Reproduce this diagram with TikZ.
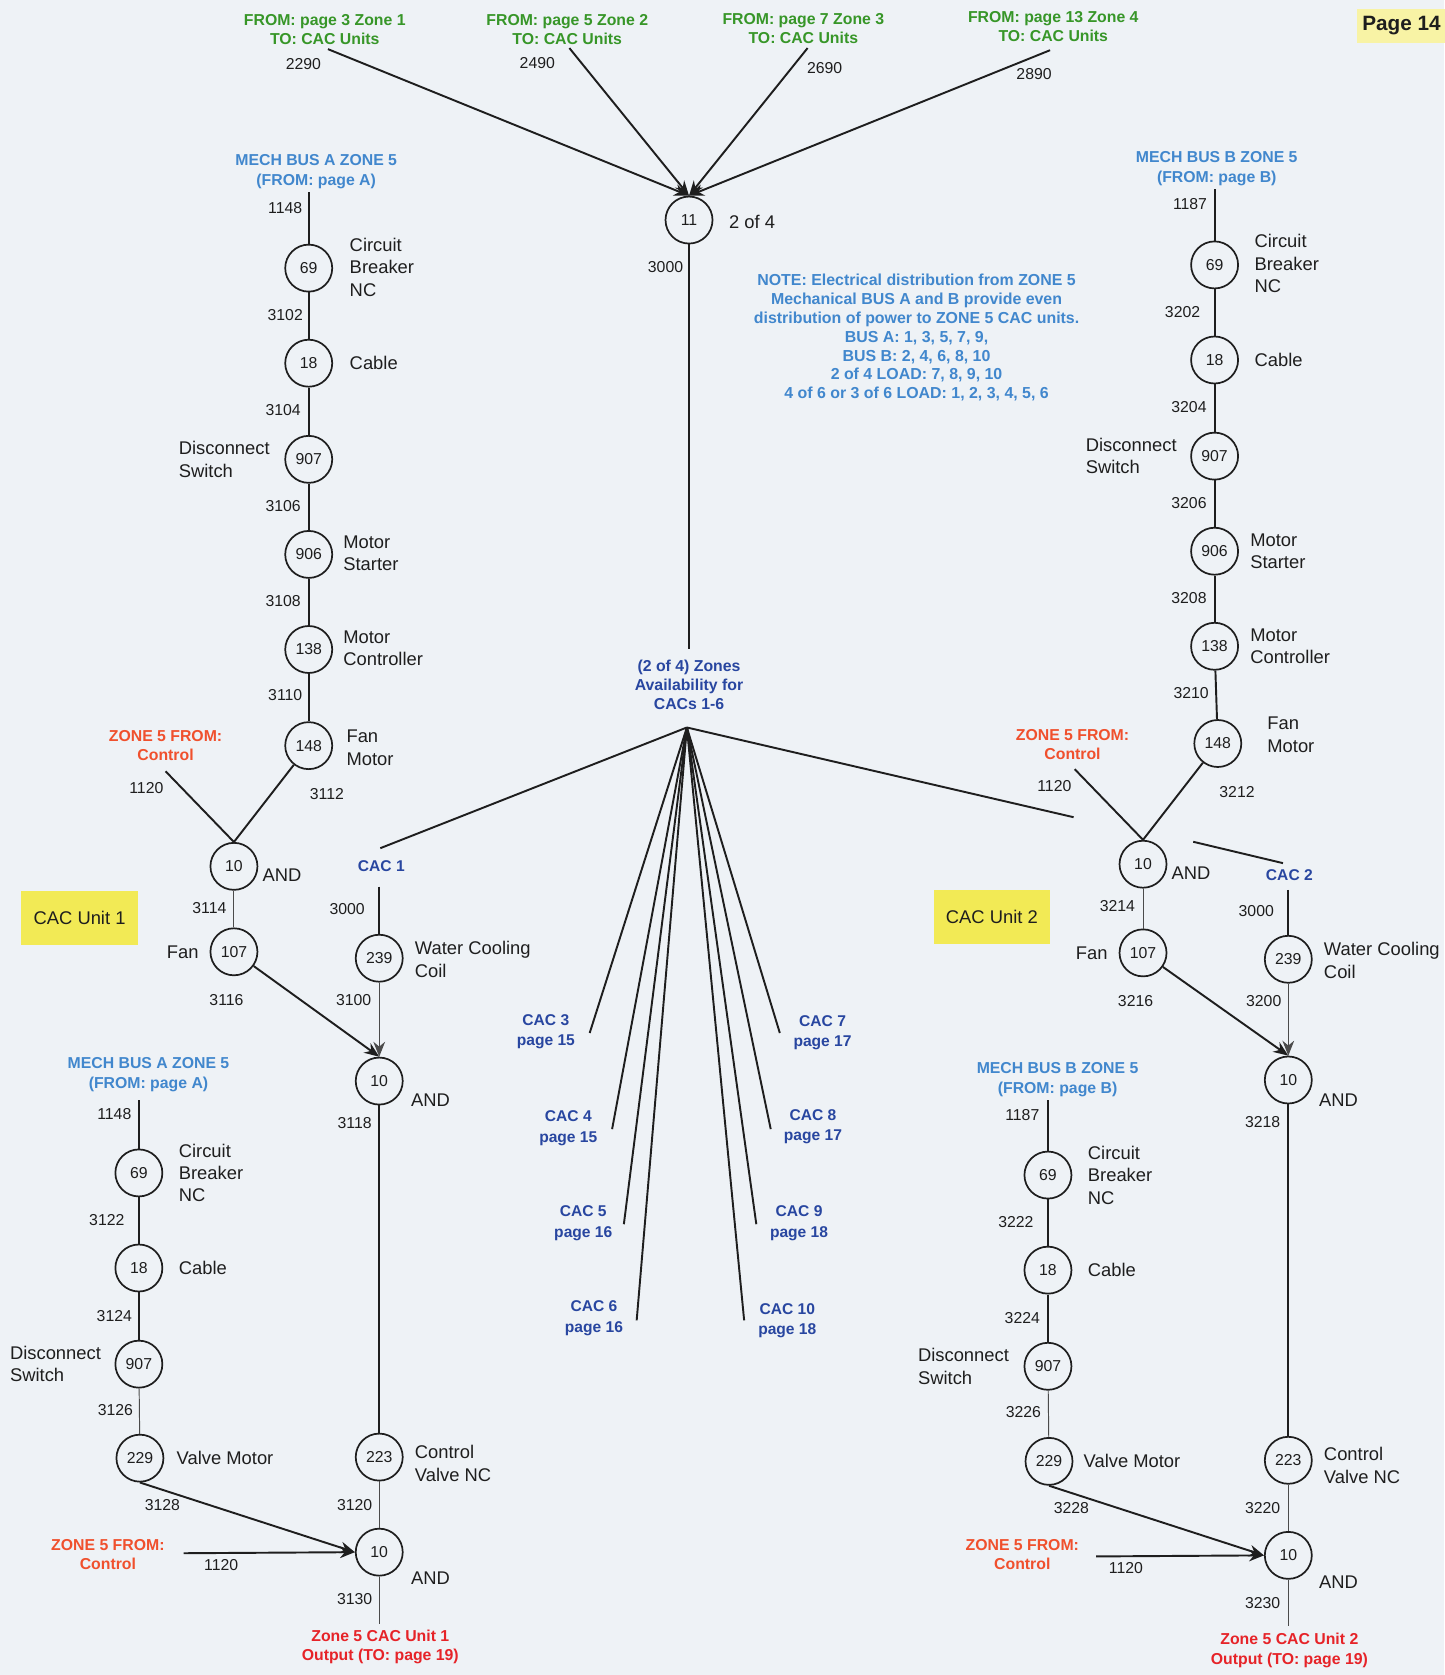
\documentclass[tikz,border=0pt]{standalone}
\usepackage{fontspec}
\setmainfont{Liberation Sans}
\usetikzlibrary{arrows.meta}
\definecolor{bg}{RGB}{238,242,246}
\definecolor{grn}{RGB}{55,150,40}
\definecolor{lblue}{RGB}{65,135,205}
\definecolor{dblue}{RGB}{40,70,160}
\definecolor{ored}{RGB}{240,80,45}
\definecolor{rred}{RGB}{230,35,40}
\definecolor{ybox}{RGB}{242,234,85}
\definecolor{pbox}{RGB}{248,243,165}
\definecolor{ink}{RGB}{30,30,30}
\tikzset{
  cnode/.style={circle, draw=ink, line width=0.8pt, minimum size=22pt, inner sep=0pt, fill=bg, text=ink, font=\fontsize{7.4}{8}\selectfont},
  wire/.style={draw=ink, line width=0.9pt},
  thinwire/.style={draw=ink!80, line width=0.45pt},
  arr/.style={-{Stealth[length=7pt,width=5.5pt]}},
  desc/.style={font=\fontsize{8.6}{10.5}\selectfont, align=left, anchor=west, inner sep=0pt, text=ink},
  plain/.style={font=\fontsize{8.6}{10.5}\selectfont, inner sep=0pt, text=ink},
  wnum/.style={font=\fontsize{7.4}{8}\selectfont, inner sep=0pt, text=ink},
  grnlbl/.style={font=\bfseries\fontsize{7.4}{9}\selectfont, align=center, inner sep=0pt, text=grn},
  hdrlbl/.style={font=\bfseries\fontsize{7.4}{9.4}\selectfont, align=center, inner sep=0pt, text=lblue},
  caclbl/.style={font=\bfseries\fontsize{7.3}{9.5}\selectfont, align=center, inner sep=0pt, text=dblue},
  ctrllbl/.style={font=\bfseries\fontsize{7.4}{9}\selectfont, align=center, inner sep=0pt, text=ored},
  outlbl/.style={font=\bfseries\fontsize{7.4}{9}\selectfont, align=center, inner sep=0pt, text=rred},
  unitbox/.style={fill=ybox, minimum width=54.5pt, minimum height=25pt, inner sep=0pt, font=\fontsize{8.6}{10}\selectfont, text=ink},
}
\begin{document}
\begin{tikzpicture}[x=0.5pt,y=-0.5pt]
\useasboundingbox (0,0) rectangle (1352,1568);
\fill[bg] (0,0) rectangle (1352,1568);

% ---------- top sources ----------
\node[grnlbl] (g1) at (304,28) {FROM: page 3 Zone 1\\TO: CAC Units};
\node[grnlbl] (g2) at (531,28) {FROM: page 5 Zone 2\\TO: CAC Units};
\node[grnlbl] (g3) at (752,27) {FROM: page 7 Zone 3\\TO: CAC Units};
\node[grnlbl] (g4) at (986,25) {FROM: page 13 Zone 4\\TO: CAC Units};
\node[wnum] (w2290) at (284,60) {2290};
\node[wnum] (w2490) at (503,59) {2490};
\node[wnum] (w2690) at (772,64) {2690};
\node[wnum] (w2890) at (968,69) {2890};
\coordinate (c1) at (307,46);
\coordinate (c2) at (533,45);
\coordinate (c3) at (756,45);
\coordinate (c4) at (983,47);

\node[fill=pbox, minimum width=42pt, minimum height=16pt, inner sep=0pt, font=\bfseries\fontsize{9.7}{11}\selectfont, text=ink] (pg) at (1312,24) {Page 14};

\node[cnode] (n11) at (645,206) {11};
\node[plain] (twoof4) at (704,208) {2 of 4};
\node[wnum] (w3000t) at (623,250) {3000};
\foreach \c in {c1,c2,c3,c4} \draw[wire,arr] (\c) -- (n11.north);

\node[font=\bfseries\fontsize{7.45}{8.85}\selectfont, align=center, inner sep=0pt, text=lblue] (note) at (858,316)
 {NOTE: Electrical distribution from ZONE 5\\Mechanical BUS A and B provide even\\distribution of power to ZONE 5 CAC units.\\BUS A: 1, 3, 5, 7, 9,\\BUS B: 2, 4, 6, 8, 10\\2 of 4 LOAD: 7, 8, 9, 10\\4 of 6 or 3 of 6 LOAD: 1, 2, 3, 4, 5, 6};

\node[font=\bfseries\fontsize{7.4}{8.75}\selectfont, align=center, inner sep=0pt, text=dblue] (avail) at (645,641) {(2 of 4) Zones\\Availability for\\CACs 1-6};
\coordinate (availtop) at (645,608);
\draw[wire] (n11) -- (availtop);
\coordinate (fan) at (643,681);

% CAC 3-10
\node[caclbl] (cac3) at (511,966) {CAC 3\\page 15};
\node[caclbl] (cac4) at (532,1056) {CAC 4\\page 15};
\node[caclbl] (cac5) at (546,1145) {CAC 5\\page 16};
\node[caclbl] (cac6) at (556,1234) {CAC 6\\page 16};
\node[caclbl] (cac7) at (770,967) {CAC 7\\page 17};
\node[caclbl] (cac8) at (761,1055) {CAC 8\\page 17};
\node[caclbl] (cac9) at (748,1145) {CAC 9\\page 18};
\node[caclbl] (cac10) at (737,1236) {CAC 10\\page 18};
\coordinate (e3) at (552,967);
\coordinate (e4) at (573,1057);
\coordinate (e5) at (584,1146);
\coordinate (e6) at (596,1236);
\coordinate (e7) at (730,967);
\coordinate (e8) at (721.5,1057);
\coordinate (e9) at (708,1146);
\coordinate (e10) at (696.6,1236);
\foreach \e in {e3,e4,e5,e6,e7,e8,e9,e10} \draw[wire] (fan) -- (\e);

% fan to CAC 1 and CAC 2
\coordinate (e1) at (356,794);
\coordinate (e2a) at (1005,765);
\coordinate (e2b) at (1117,788);
\coordinate (e2c) at (1201,808);
\draw[wire] (fan) -- (e1);
\draw[wire] (fan) -- (e2a);
\draw[wire] (e2b) -- (e2c);

% ---------- upper left chain (BUS A) ----------
\node[hdrlbl] (hA) at (296,161) {MECH BUS A ZONE 5\\(FROM: page A)};
\coordinate (tA) at (289,180);
\node[wnum] (wA1) at (267,195) {1148};
\node[cnode] (nA69) at (289,251) {69};
\node[desc] (dA69) at (327,250) {Circuit\\Breaker\\NC};
\node[wnum] (wA2) at (267,295) {3102};
\node[cnode] (nA18) at (289,340) {18};
\node[desc] (dA18) at (327,340) {Cable};
\node[wnum] (wA3) at (265,384) {3104};
\node[cnode] (nA907) at (289,430) {907};
\node[desc] (dA907) at (167,430) {Disconnect\\Switch};
\node[wnum] (wA4) at (265,474) {3106};
\node[cnode] (nA906) at (289,519) {906};
\node[desc] (dA906) at (321,518) {Motor\\Starter};
\node[wnum] (wA5) at (265,563) {3108};
\node[cnode] (nA138) at (289,608) {138};
\node[desc] (dA138) at (321,607) {Motor\\Controller};
\node[wnum] (wA6) at (267,651) {3110};
\node[cnode] (nA148) at (289,698) {148};
\node[desc] (dA148) at (324,700) {Fan\\Motor};
\node[ctrllbl] (ctlA) at (155,698) {ZONE 5 FROM:\\Control};
\coordinate (ctA) at (155,722);
\node[wnum] (wA7) at (137,738) {1120};
\node[wnum] (wA8) at (306,743) {3112};
\node[cnode] (nAand1) at (219,811) {10};
\node[plain] (andA1) at (264,819) {AND};
\node[wnum] (wA9) at (196,850) {3114};
\node[cnode] (nA107) at (219,891) {107};
\node[plain] (fanA) at (171,891) {Fan};
\node[wnum] (wA10) at (212,936) {3116};
\node[caclbl] (cac1) at (357,811) {CAC 1};
\coordinate (tA1) at (355,830);
\node[wnum] (wA11) at (325,851) {3000};
\node[cnode] (nA239) at (355,897) {239};
\node[desc] (dA239) at (388,898) {Water Cooling\\Coil};
\node[wnum] (wA12) at (331,936) {3100};
\node[cnode] (nAand2) at (355,1012) {10};
\node[plain] (andA2) at (403,1030) {AND};
\node[wnum] (wA13) at (332,1051) {3118};
\node[cnode] (nA223) at (355,1364) {223};
\node[desc] (dA223) at (388,1370) {Control\\Valve NC};
\node[wnum] (wA14) at (332,1409) {3120};
\node[cnode] (nAand3) at (355,1453) {10};
\node[plain] (andA3) at (403,1477) {AND};
\node[wnum] (wA15) at (332,1497) {3130};
\coordinate (oA) at (355,1520);
\node[outlbl] (outA) at (356,1542) {Zone 5 CAC Unit 1\\Output (TO: page 19)};
\node[unitbox] (unit1) at (74.5,859.5) {CAC Unit 1};

\draw[wire] (tA) -- (nA69);
\draw[wire] (nA69) -- (nA18);
\draw[wire] (nA18) -- (nA907);
\draw[wire] (nA907) -- (nA906);
\draw[wire] (nA906) -- (nA138);
\draw[wire] (nA138) -- (nA148);
\draw[wire] (nA148) -- (nAand1.north);
\draw[wire] (ctA) -- (nAand1.north);
\draw[thinwire] (nAand1) -- (nA107);
\draw[wire,arr] (nA107) -- (nAand2.north);
\draw[wire] (tA1) -- (nA239);
\draw[thinwire,arr] (nA239) -- (nAand2.north);
\draw[wire] (nAand2) -- (nA223);
\draw[thinwire] (nA223) -- (nAand3);
\draw[thinwire] (nAand3) -- (oA);

% ---------- lower left chain (BUS A) ----------
\node[hdrlbl] (hB) at (139,1006) {MECH BUS A ZONE 5\\(FROM: page A)};
\coordinate (tB) at (130,1030);
\node[wnum] (wB1) at (107,1043) {1148};
\node[cnode] (nB69) at (130,1098) {69};
\node[desc] (dB69) at (167,1098) {Circuit\\Breaker\\NC};
\node[wnum] (wB2) at (100,1142) {3122};
\node[cnode] (nB18) at (130,1187) {18};
\node[desc] (dB18) at (167,1187) {Cable};
\node[wnum] (wB3) at (107,1232) {3124};
\node[cnode] (nB907) at (130,1277) {907};
\node[desc] (dB907) at (9,1277) {Disconnect\\Switch};
\node[wnum] (wB4) at (108,1320) {3126};
\node[cnode] (nB229) at (131,1365) {229};
\node[desc] (dB229) at (165,1365) {Valve Motor};
\node[wnum] (wB5) at (152,1409) {3128};
\node[ctrllbl] (ctlB) at (101,1455) {ZONE 5 FROM:\\Control};
\coordinate (ctB) at (172,1454);
\node[wnum] (wB6) at (207,1465) {1120};

\draw[wire] (tB) -- (nB69);
\draw[wire] (nB69) -- (nB18);
\draw[wire] (nB18) -- (nB907);
\draw[thinwire] (nB907) -- (nB229);
\draw[wire,arr] (nB229.south) -- (nAand3.west);
\draw[wire,arr] (ctB) -- (nAand3.west);

% ---------- upper right chain (BUS B) ----------
\node[hdrlbl] (hC) at (1139,158) {MECH BUS B ZONE 5\\(FROM: page B)};
\coordinate (tC) at (1137,177);
\node[wnum] (wC1) at (1114,191) {1187};
\node[cnode] (nC69) at (1137,248) {69};
\node[desc] (dC69) at (1174,247) {Circuit\\Breaker\\NC};
\node[wnum] (wC2) at (1107,292) {3202};
\node[cnode] (nC18) at (1137,337) {18};
\node[desc] (dC18) at (1174,337) {Cable};
\node[wnum] (wC3) at (1113,381) {3204};
\node[cnode] (nC907) at (1137,427) {907};
\node[desc] (dC907) at (1016,427) {Disconnect\\Switch};
\node[wnum] (wC4) at (1113,471) {3206};
\node[cnode] (nC906) at (1137,516) {906};
\node[desc] (dC906) at (1170,516) {Motor\\Starter};
\node[wnum] (wC5) at (1113,560) {3208};
\node[cnode] (nC138) at (1137,605) {138};
\node[desc] (dC138) at (1170,605) {Motor\\Controller};
\node[wnum] (wC6) at (1115,649) {3210};
\node[cnode] (nC148) at (1140,696) {148};
\node[desc] (dC148) at (1186,688) {Fan\\Motor};
\node[ctrllbl] (ctlC) at (1004,697) {ZONE 5 FROM:\\Control};
\coordinate (ctC) at (1006,720);
\node[wnum] (wC7) at (987,736) {1120};
\node[wnum] (wC8) at (1158,741) {3212};
\node[cnode] (nCand1) at (1070,809) {10};
\node[plain] (andC1) at (1115,817) {AND};
\node[wnum] (wC9) at (1046,848) {3214};
\node[cnode] (nC107) at (1070,892) {107};
\node[plain] (fanC) at (1022,892) {Fan};
\node[wnum] (wC10) at (1063,937) {3216};
\node[caclbl] (cac2) at (1207,819) {CAC 2};
\coordinate (tC1) at (1206,833);
\node[wnum] (wC11) at (1176,853) {3000};
\node[cnode] (nC239) at (1206,898) {239};
\node[desc] (dC239) at (1239,899) {Water Cooling\\Coil};
\node[wnum] (wC12) at (1183,937) {3200};
\node[cnode] (nCand2) at (1206,1011) {10};
\node[plain] (andC2) at (1253,1030) {AND};
\node[wnum] (wC13) at (1182,1050) {3218};
\node[cnode] (nC223) at (1206,1367) {223};
\node[desc] (dC223) at (1239,1372) {Control\\Valve NC};
\node[wnum] (wC14) at (1182,1412) {3220};
\node[cnode] (nCand3) at (1206,1456) {10};
\node[plain] (andC3) at (1253,1481) {AND};
\node[wnum] (wC15) at (1182,1501) {3230};
\coordinate (oC) at (1206,1522);
\node[outlbl] (outC) at (1207,1545) {Zone 5 CAC Unit 2\\Output (TO: page 19)};
\node[unitbox] (unit2) at (928.5,858.5) {CAC Unit 2};

\draw[wire] (tC) -- (nC69);
\draw[wire] (nC69) -- (nC18);
\draw[wire] (nC18) -- (nC907);
\draw[wire] (nC907) -- (nC906);
\draw[wire] (nC906) -- (nC138);
\draw[wire] (nC138) -- (nC148);
\draw[wire] (nC148) -- (nCand1.north);
\draw[wire] (ctC) -- (nCand1.north);
\draw[thinwire] (nCand1) -- (nC107);
\draw[wire,arr] (nC107) -- (nCand2.north);
\draw[wire] (tC1) -- (nC239);
\draw[thinwire,arr] (nC239) -- (nCand2.north);
\draw[wire] (nCand2) -- (nC223);
\draw[thinwire] (nC223) -- (nCand3);
\draw[thinwire] (nCand3) -- (oC);

% ---------- lower right chain (BUS B) ----------
\node[hdrlbl] (hD) at (990,1011) {MECH BUS B ZONE 5\\(FROM: page B)};
\coordinate (tD) at (981,1030);
\node[wnum] (wD1) at (957,1044) {1187};
\node[cnode] (nD69) at (981,1100) {69};
\node[desc] (dD69) at (1018,1100) {Circuit\\Breaker\\NC};
\node[wnum] (wD2) at (951,1144) {3222};
\node[cnode] (nD18) at (981,1189) {18};
\node[desc] (dD18) at (1018,1189) {Cable};
\node[wnum] (wD3) at (957,1234) {3224};
\node[cnode] (nD907) at (981,1279) {907};
\node[desc] (dD907) at (859,1279) {Disconnect\\Switch};
\node[wnum] (wD4) at (958,1322) {3226};
\node[cnode] (nD229) at (982,1368) {229};
\node[desc] (dD229) at (1014,1368) {Valve Motor};
\node[wnum] (wD5) at (1003,1412) {3228};
\node[ctrllbl] (ctlD) at (957,1455) {ZONE 5 FROM:\\Control};
\coordinate (ctD) at (1026,1457);
\node[wnum] (wD6) at (1054,1468) {1120};

\draw[wire] (tD) -- (nD69);
\draw[wire] (nD69) -- (nD18);
\draw[wire] (nD18) -- (nD907);
\draw[thinwire] (nD907) -- (nD229);
\draw[wire,arr] (nD229.south) -- (nCand3.west);
\draw[wire,arr] (ctD) -- (nCand3.west);
\end{tikzpicture}
\end{document}
